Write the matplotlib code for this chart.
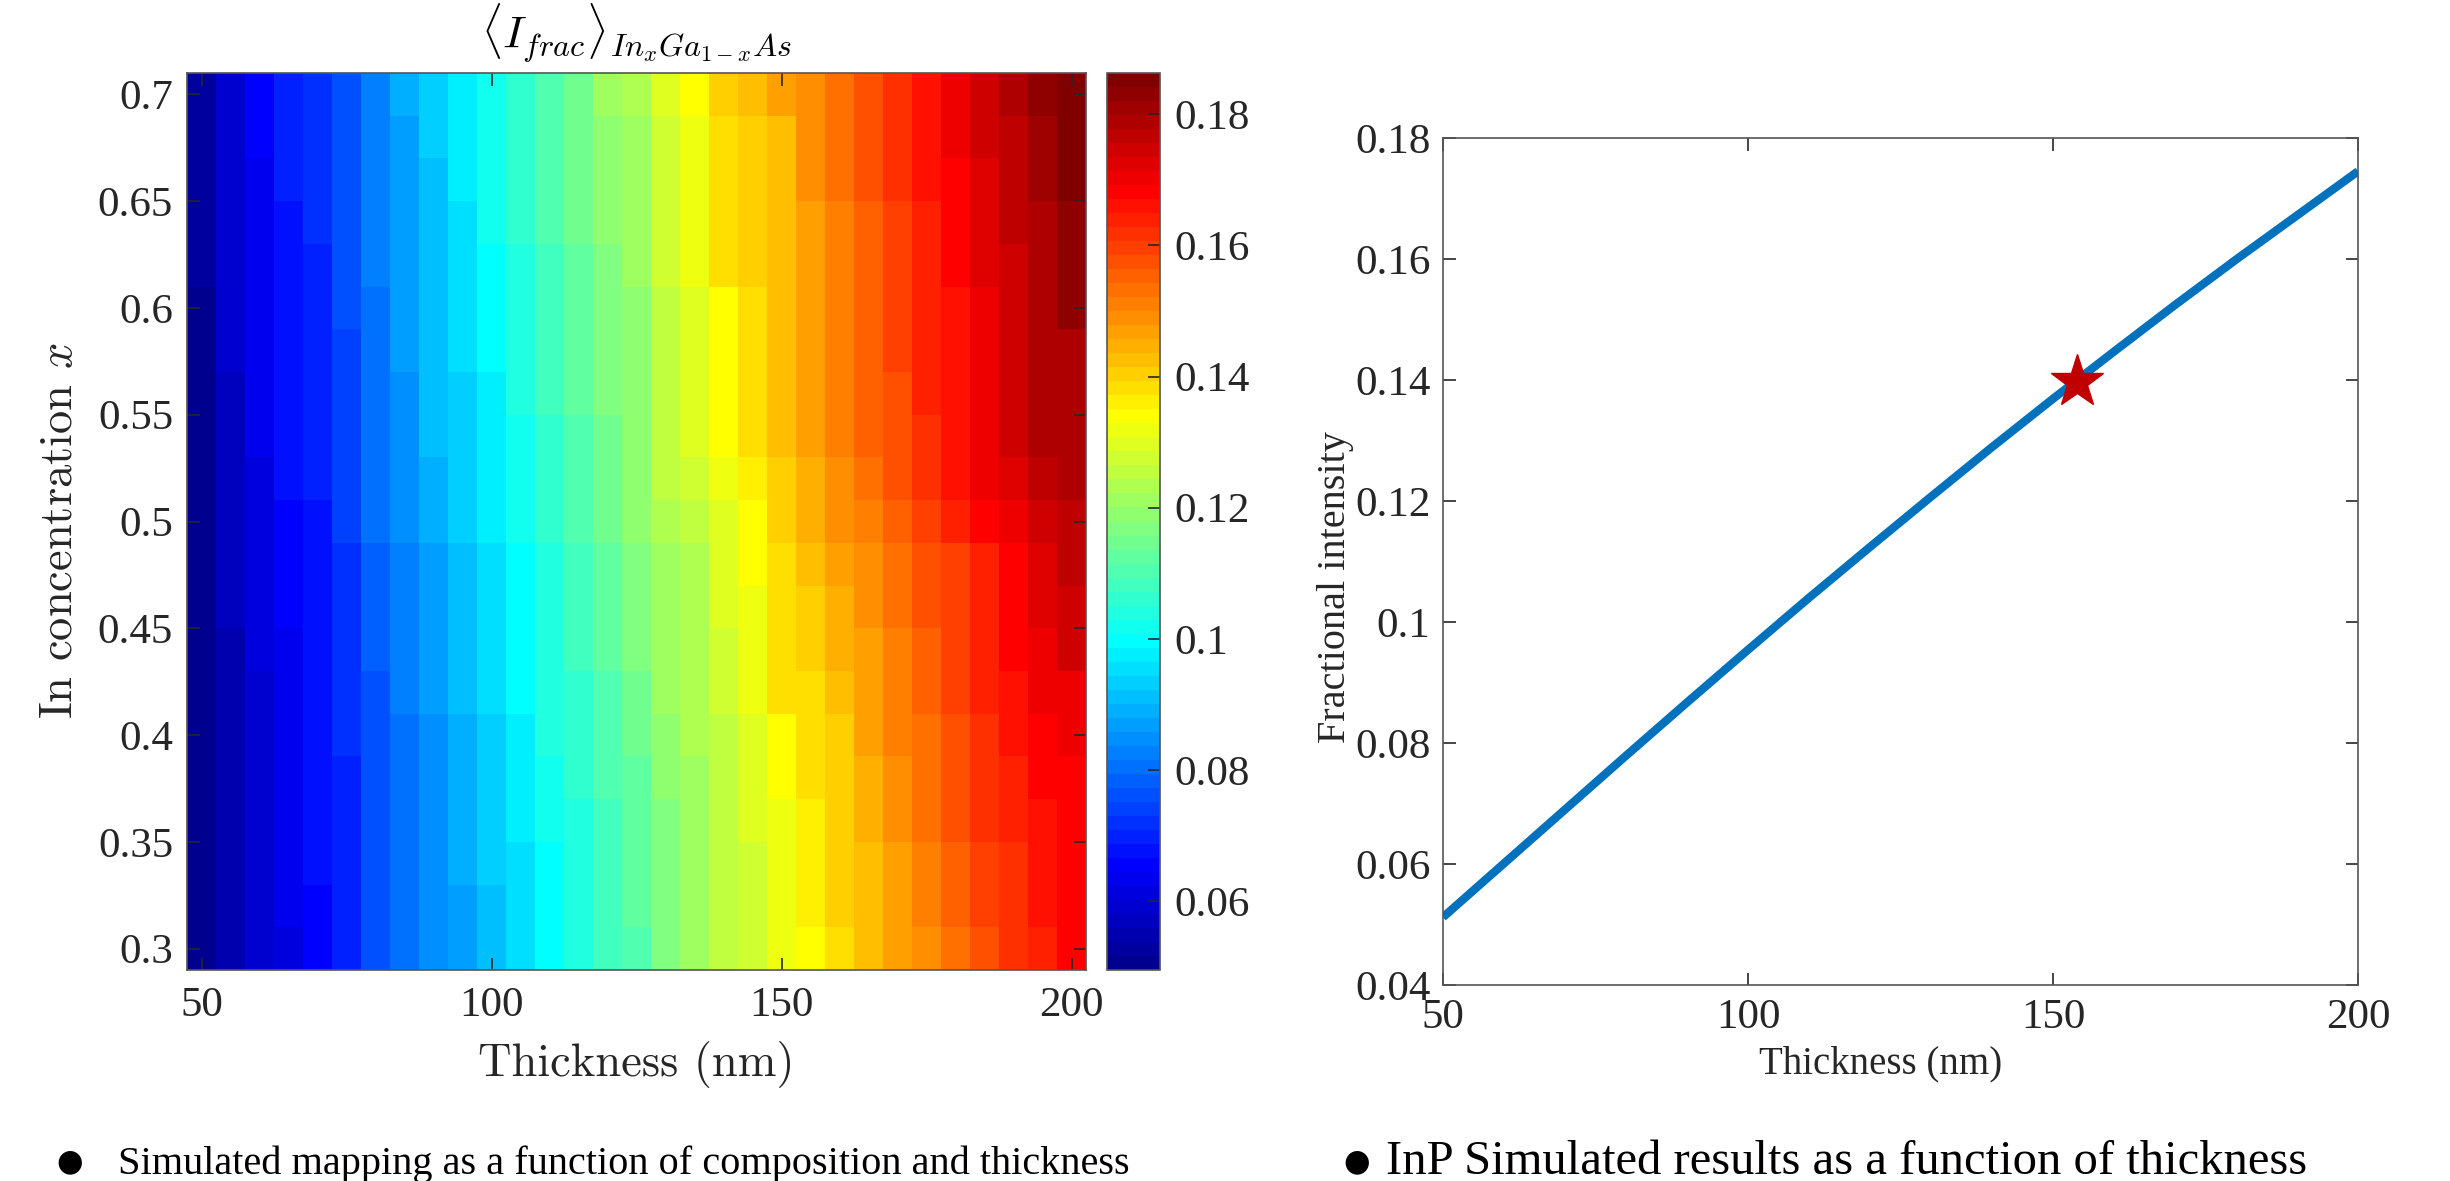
import numpy as np
import matplotlib
matplotlib.use("Agg")
import matplotlib.pyplot as plt
from matplotlib.colors import ListedColormap

# grid of the simulated map
thickness = [50, 55, 60, 65, 70, 75, 80, 85, 90, 95, 100, 105, 110, 115, 120, 125,
             130, 135, 140, 145, 150, 155, 160, 165, 170, 175, 180, 185, 190, 195, 200]
in_conc = [0.30, 0.32, 0.34, 0.36, 0.38, 0.40, 0.42, 0.44, 0.46, 0.48, 0.50,
           0.52, 0.54, 0.56, 0.58, 0.60, 0.62, 0.64, 0.66, 0.68, 0.70]

# <I_frac> x 1e-3, one row per In concentration (0.30 first)
ifrac_map = [
    [51, 55, 59, 61, 66, 70, 76, 81, 85, 87, 91, 96, 100, 104, 108, 110, 117, 121, 125, 128, 132, 134, 138, 143, 147, 149, 153, 158, 162, 164, 168],
    [51, 55, 59, 63, 66, 70, 76, 81, 85, 87, 91, 96, 100, 104, 108, 113, 117, 121, 125, 128, 132, 136, 140, 143, 147, 151, 155, 160, 162, 166, 168],
    [51, 55, 59, 63, 68, 70, 76, 81, 85, 89, 93, 96, 100, 104, 108, 113, 117, 121, 125, 128, 132, 136, 140, 143, 147, 151, 155, 160, 162, 166, 168],
    [51, 55, 59, 63, 68, 70, 76, 81, 85, 89, 93, 98, 102, 104, 108, 113, 117, 121, 125, 130, 132, 136, 140, 145, 149, 153, 158, 162, 164, 166, 168],
    [51, 55, 59, 63, 68, 70, 76, 81, 85, 89, 93, 98, 102, 106, 110, 113, 119, 121, 125, 130, 134, 138, 140, 145, 149, 153, 158, 162, 164, 168, 168],
    [51, 55, 59, 63, 68, 72, 76, 81, 85, 89, 93, 98, 104, 106, 110, 115, 119, 123, 125, 130, 134, 138, 140, 147, 151, 153, 158, 162, 166, 168, 170],
    [51, 55, 59, 63, 68, 72, 76, 83, 87, 91, 96, 100, 104, 106, 110, 115, 121, 123, 128, 132, 138, 138, 143, 147, 151, 155, 160, 164, 166, 170, 170],
    [51, 55, 61, 63, 68, 72, 78, 83, 87, 91, 96, 100, 104, 108, 113, 117, 121, 123, 128, 132, 138, 140, 145, 147, 151, 155, 160, 164, 168, 170, 175],
    [51, 57, 61, 66, 68, 72, 78, 83, 87, 91, 96, 100, 104, 108, 113, 117, 121, 123, 130, 132, 138, 140, 145, 149, 153, 158, 160, 164, 168, 173, 175],
    [51, 57, 61, 66, 68, 72, 78, 83, 87, 91, 96, 100, 104, 108, 113, 117, 121, 123, 130, 134, 138, 143, 147, 149, 153, 158, 160, 164, 168, 173, 177],
    [51, 57, 61, 66, 68, 74, 81, 85, 89, 93, 98, 102, 106, 110, 115, 119, 123, 125, 130, 134, 140, 145, 149, 151, 155, 160, 164, 168, 170, 175, 177],
    [51, 57, 61, 68, 70, 74, 81, 85, 89, 93, 98, 102, 106, 110, 115, 119, 125, 128, 132, 136, 140, 145, 149, 153, 158, 162, 166, 170, 173, 177, 179],
    [51, 57, 63, 68, 70, 74, 81, 85, 91, 93, 98, 102, 106, 110, 115, 119, 125, 130, 134, 138, 143, 147, 151, 155, 158, 162, 166, 170, 175, 179, 179],
    [51, 57, 63, 68, 70, 74, 81, 85, 91, 93, 98, 104, 108, 113, 117, 119, 125, 130, 134, 138, 143, 147, 151, 155, 158, 164, 166, 170, 175, 179, 179],
    [51, 59, 63, 68, 70, 74, 81, 87, 91, 96, 100, 104, 108, 113, 117, 119, 125, 130, 134, 138, 143, 147, 151, 155, 160, 164, 166, 170, 175, 179, 179],
    [51, 59, 63, 68, 70, 76, 81, 87, 91, 96, 100, 104, 108, 113, 117, 119, 125, 130, 134, 138, 143, 147, 151, 155, 160, 164, 166, 170, 175, 179, 183],
    [53, 59, 63, 68, 70, 76, 83, 87, 91, 96, 100, 104, 108, 113, 117, 121, 128, 132, 138, 140, 143, 147, 151, 155, 160, 164, 168, 173, 175, 179, 183],
    [53, 59, 63, 68, 72, 76, 83, 87, 91, 96, 102, 106, 110, 115, 119, 121, 128, 132, 138, 140, 143, 147, 151, 155, 160, 164, 168, 173, 177, 179, 183],
    [53, 59, 63, 70, 72, 76, 83, 87, 91, 98, 102, 106, 110, 115, 119, 121, 128, 132, 138, 140, 143, 149, 153, 158, 162, 166, 168, 173, 177, 181, 185],
    [53, 59, 66, 70, 72, 76, 83, 87, 93, 98, 102, 106, 110, 115, 119, 121, 128, 132, 138, 140, 143, 149, 153, 158, 162, 166, 170, 175, 177, 181, 185],
    [53, 59, 66, 70, 72, 76, 83, 89, 93, 98, 102, 106, 110, 115, 121, 123, 130, 134, 140, 143, 147, 149, 153, 158, 162, 166, 170, 175, 179, 183, 185],
]
clim = (0.0495, 0.1863)
cbar_ticks = [0.06, 0.08, 0.10, 0.12, 0.14, 0.16, 0.18]
cbar_labels = ["0.06", "0.08", "0.1", "0.12", "0.14", "0.16", "0.18"]
map_xticks = [50, 100, 150, 200]
map_yticks = [0.3, 0.35, 0.4, 0.45, 0.5, 0.55, 0.6, 0.65, 0.7]
map_ylabels = ["0.3", "0.35", "0.4", "0.45", "0.5", "0.55", "0.6", "0.65", "0.7"]

# InP curve
inp_thickness = [50, 60, 70, 80, 90, 100, 110, 120, 130, 140, 150, 160, 170, 180, 190, 200]
inp_ifrac = [0.0512, 0.0601, 0.0690, 0.0779, 0.0867, 0.0954, 0.1040, 0.1124,
             0.1207, 0.1289, 0.1369, 0.1447, 0.1524, 0.1599, 0.1672, 0.1745]
star_t = 154
star_i = 0.1397
line_yticks = [0.04, 0.06, 0.08, 0.10, 0.12, 0.14, 0.16, 0.18]
line_ylabels = ["0.04", "0.06", "0.08", "0.1", "0.12", "0.14", "0.16", "0.18"]

# matlab style jet(64)
n = 16
u = np.r_[np.arange(1, n + 1) / n, np.ones(n - 1), np.arange(n, 0, -1) / n]
g_idx = np.arange(len(u)) + n // 2
jet = np.zeros((64, 3))
for ch, off in ((0, n), (1, 0), (2, -n)):
    idx = g_idx + off
    ok = (idx >= 0) & (idx < 64)
    jet[idx[ok], ch] = u[ok]
cmap = ListedColormap(jet)

W, H = 2450, 1181
plt.rcParams["mathtext.fontset"] = "cm"
tick_col = "#262626"
spine_col = "#555555"
serif = "Liberation Serif"
tick_fs = 31

fig = plt.figure(figsize=(W / 100, H / 100), dpi=100)

def px_axes(l, t, r, b):
    return fig.add_axes([l / W, 1 - b / H, (r - l) / W, (b - t) / H])

ax1 = px_axes(187, 73, 1086, 970)
cax = px_axes(1107, 73, 1160, 970)
ax2 = px_axes(1443, 138, 2358, 985)

# heatmap
t_arr = np.array(thickness, float)
x_arr = np.array(in_conc, float)
vals = np.array(ifrac_map, float) / 1000.0
mesh = ax1.pcolormesh(t_arr, x_arr, vals, cmap=cmap, vmin=clim[0], vmax=clim[1],
                      shading="nearest")
ax1.set_xlim(47.5, 202.5)
ax1.set_ylim(0.29, 0.71)
ax1.set_xticks(map_xticks)
ax1.set_xticklabels([str(v) for v in map_xticks])
ax1.set_yticks(map_yticks)
ax1.set_yticklabels(map_ylabels)

cb = fig.colorbar(mesh, cax=cax)
cb.set_ticks(cbar_ticks)
cb.set_ticklabels(cbar_labels)
cb.outline.set_edgecolor(spine_col)
cb.outline.set_linewidth(1.2)
cax.tick_params(direction="in", length=9, width=1.2, color=tick_col, pad=10,
                labelsize=tick_fs, labelcolor=tick_col)
for lab in cax.get_yticklabels():
    lab.set_fontfamily(serif)

# line plot
ax2.plot(inp_thickness, inp_ifrac, color="#0072BD", lw=6, solid_capstyle="butt")
ax2.plot([star_t], [star_i], marker="*", color="#C00000", markersize=40, ls="none")
ax2.set_xlim(50, 200)
ax2.set_ylim(0.04, 0.18)
ax2.set_xticks(map_xticks)
ax2.set_xticklabels([str(v) for v in map_xticks])
ax2.set_yticks(line_yticks)
ax2.set_yticklabels(line_ylabels)

for ax in (ax1, ax2):
    for s in ax.spines.values():
        s.set_color(spine_col)
        s.set_linewidth(1.2)
    ax.tick_params(which="both", direction="in", top=True, right=True, length=9,
                   width=1.2, color=tick_col, labelsize=tick_fs, labelcolor=tick_col)
    for lab in ax.get_xticklabels() + ax.get_yticklabels():
        lab.set_fontfamily(serif)
ax1.tick_params(axis="x", pad=12)
ax1.tick_params(axis="y", pad=10)
ax2.tick_params(axis="x", pad=10)
ax2.tick_params(axis="y", pad=9)

# labels
ax1.set_xlabel("Thickness (nm)", fontfamily="cmr10", fontsize=33.5, color=tick_col)
ax1.xaxis.set_label_coords(0.5, (970 - 1064) / 897)
ax1.xaxis.label.set_va("center")
ax1.set_ylabel(r"In concentration $x$", fontfamily="cmr10", fontsize=33.5, color=tick_col)
ax1.yaxis.set_label_coords((60 - 187) / 899, (970 - 531) / 897)
ax1.yaxis.label.set_va("center")

ax2.set_xlabel("Thickness (nm)", fontfamily=serif, fontsize=28, color=tick_col)
ax2.xaxis.set_label_coords(0.478, (985 - 1064) / 847)
ax2.xaxis.label.set_va("center")
ax2.set_ylabel("Fractional intensity", fontfamily=serif, fontsize=29, color=tick_col)
ax2.yaxis.set_label_coords((1336 - 1443) / 915, (985 - 587) / 847)
ax2.yaxis.label.set_va("center")

fig.text(636 / W, 1 - 33 / H, r"$\langle I_{frac}\rangle_{In_xGa_{1-x}As}$",
         ha="center", va="center", fontsize=33, color="black")

# captions under the panels
fig.text(70 / W, 1 - 1162 / H, "\u25cf", fontfamily="DejaVu Sans", fontsize=22,
         ha="center", va="center", color="black")
fig.text(118 / W, 1 - 1174 / H, "Simulated mapping as a function of composition and thickness",
         fontfamily=serif, fontsize=29, ha="left", va="baseline", color="black")
fig.text(1357 / W, 1 - 1162 / H, "\u25cf", fontfamily="DejaVu Sans", fontsize=22,
         ha="center", va="center", color="black")
fig.text(1386 / W, 1 - 1174 / H, "InP Simulated results as a function of thickness",
         fontfamily=serif, fontsize=35, ha="left", va="baseline", color="black")

fig.savefig("out.png", dpi=100, facecolor="white")
